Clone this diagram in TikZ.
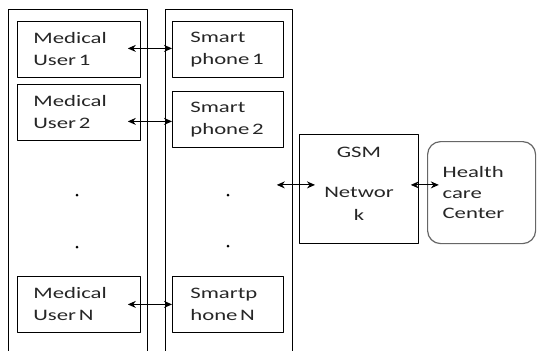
\documentclass[tikz,border=0pt]{standalone}
\usepackage{fontspec}
\setmainfont[FakeStretch=1.42]{Carlito}
\usetikzlibrary{arrows.meta}
\tikzset{
	panel/.style={draw,thick,minimum width=#1,minimum height=346pt,inner sep=0pt},
	userbox/.style={draw,thick,minimum width=123pt,minimum height=56pt,text width=91pt,inner xsep=16pt,inner ysep=0pt,align=left},
	phonebox/.style={draw,thick,minimum width=111pt,minimum height=56pt,text width=75pt,inner xsep=18pt,inner ysep=0pt,align=left},
	dotmark/.style={circle,fill=black,inner sep=0pt,minimum size=3pt},
	link/.style={line width=1.1pt,{Stealth[length=8pt,width=7pt]}-{Stealth[length=8pt,width=7pt]}},
}
\begin{document}
\begin{tikzpicture}[x=1pt,y=-1pt,line join=round,font=\fontsize{16}{22}\selectfont,text=black!85]
		\useasboundingbox (0,0) rectangle (547,351);
		\clip (0,0) rectangle (547,351);
		% two panels
		\node[panel=139pt,anchor=north west] (userpanel) at (8,9) {};
		\node[panel=127pt,anchor=north west] (phonepanel) at (165,9) {};
		% users
		\node[userbox,anchor=north west] (user1) at (17,21) {Medical\\User\,1};
		\node[userbox,anchor=north west] (user2) at (17,84) {Medical\\User\,2};
		\node[userbox,anchor=north west] (userN) at (17,276) {Medical\\User\,N};
		% phones
		\node[phonebox,anchor=north west] (phone1) at (172,21) {Smart\\phone\,1};
		\node[phonebox,anchor=north west] (phone2) at (172,91) {Smart\\phone\,2};
		\node[phonebox,anchor=north west] (phoneN) at (172,276) {Smartp\\hone\,N};
		% dots
		\node[dotmark] (ud1) at (77,195) {};
		\node[dotmark] (ud2) at (77,247) {};
		\node[dotmark] (pd1) at (228,195) {};
		\node[dotmark] (pd2) at (228,246) {};
		% network and centre
		\node[draw,thick,anchor=north west,minimum width=119pt,minimum height=109pt,inner sep=0pt] (gsm) at (299,134) {};
		\node[align=center,font=\fontsize{16}{23}\selectfont] (gsmtext) at (359,184) {GSM\\[17pt]Networ\\k};
		\node[draw=black!60,very thick,rounded corners=13pt,anchor=north west,minimum width=108pt,minimum height=102pt,text width=78pt,inner xsep=15pt,inner ysep=0pt,align=left,font=\fontsize{16}{20.5}\selectfont] (hcc) at (427,141) {Health\\care\\Center};
		% arrows
		\draw[link] ([xshift=-13pt,yshift=1pt]user1.east) -- ([yshift=1pt]phone1.west);
		\draw[link] ([xshift=-13pt,yshift=-2pt]user2.east |- phone2.west) -- ([yshift=-2pt]phone2.west);
		\draw[link] ([xshift=-13pt]userN.east) -- (phoneN.west);
		\draw[link] ([xshift=-16pt,yshift=4pt]phonepanel.east |- gsm.west) -- ([xshift=16pt,yshift=4pt]gsm.west);
		\draw[link] ([xshift=-8pt,yshift=4pt]gsm.east) -- ([xshift=20pt,yshift=4pt]gsm.east);
		\end{tikzpicture}
\end{document}
